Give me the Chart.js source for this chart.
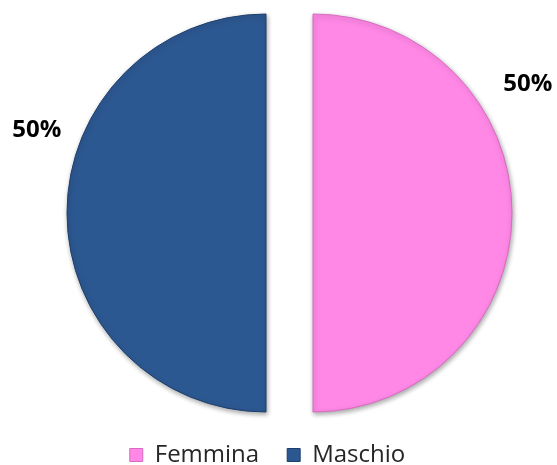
<!DOCTYPE html>
<html>
<head>
<meta charset="utf-8">
<script src="https://cdn.jsdelivr.net/npm/chart.js@4"></script>
<style>
  html, body { margin: 0; padding: 0; background: #fff; }
  #wrap { width: 557px; height: 465px; }
</style>
</head>
<body>
<div id="wrap"><canvas id="pie"></canvas></div>
<script>
// dati del grafico
const categories = ['Femmina', 'Maschio'];
const values = [50, 50];
const sliceColors = ['#FF88E6', '#2C5891'];
const sliceBorders = ['#D86AC2', '#1E3F6C'];

// posizione delle etichette percentuali (angolo in gradi, distanza dal centro)
const labelPlacement = [
    { angle: -28.4, dist: 271 },
    { angle: 198.2, dist: 266 }
];
const explode = 23.5; // distacco delle fette dal centro (px)

// fette staccate: sposta ogni arco lungo la sua bisettrice
// (l'opzione offset di Chart.js v4 restringe anche l'angolo e storce il bordo dritto)
const explodePlugin = {
    id: 'explode',
    beforeDatasetsDraw(chart) {
        const ctx = chart.ctx;
        chart.getDatasetMeta(0).data.forEach(arc => {
            if (arc._exploded) return;
            const origDraw = arc.draw;
            arc.draw = function(c) {
                const mid = (this.startAngle + this.endAngle) / 2;
                c.save();
                c.translate(Math.cos(mid) * explode, Math.sin(mid) * explode);
                origDraw.call(this, c);
                c.restore();
            };
            arc._exploded = true;
        });
        // ombra leggera sotto le fette
        ctx.save();
        ctx.shadowColor = 'rgba(0,0,0,0.35)';
        ctx.shadowBlur = 5;
        ctx.shadowOffsetX = 1;
        ctx.shadowOffsetY = 2;
    },
    afterDatasetsDraw(chart) {
        chart.ctx.restore();
    }
};

// etichette "50%" fuori dalla torta
const percentLabels = {
    id: 'percentLabels',
    afterDraw(chart) {
        const ctx = chart.ctx;
        const meta = chart.getDatasetMeta(0);
        const total = values.reduce((s, v) => s + v, 0);
        ctx.save();
        ctx.font = 'bold 24px "Open Sans", sans-serif';
        ctx.fillStyle = '#000';
        ctx.textAlign = 'center';
        ctx.textBaseline = 'middle';
        meta.data.forEach((arc, i) => {
            const p = labelPlacement[i];
            const a = p.angle * Math.PI / 180;
            const x = arc.x + Math.cos(a) * p.dist;
            const y = arc.y + Math.sin(a) * p.dist;
            ctx.fillText(Math.round(values[i] / total * 100) + '%', x, y);
        });
        ctx.restore();
    }
};

// sposta la legenda come nel riferimento
const legendShift = {
    id: 'legendShift',
    afterLayout(chart) {
        const lg = chart.legend;
        lg.left -= 22;
        lg.right -= 22;
        lg.top += 12;
        lg.bottom += 12;
    }
};

const ctx = document.getElementById('pie').getContext('2d');
const chart = new Chart(ctx, {
    type: 'pie',
    data: {
        labels: categories,
        datasets: [{
            data: values,
            backgroundColor: sliceColors,
            borderColor: sliceBorders,
            borderWidth: 1
        }]
    },
    options: {
        responsive: true,
        maintainAspectRatio: false,
        animation: false,
        radius: 199,
        layout: { padding: { left: 22, right: 0, top: 23, bottom: 0 } },
        plugins: {
            tooltip: { enabled: false },
            legend: {
                position: 'bottom',
                labels: {
                    boxWidth: 13,
                    boxHeight: 13,
                    padding: 28,
                    color: '#262626',
                    font: { family: '"Open Sans", sans-serif', size: 24 }
                }
            }
        }
    },
    plugins: [explodePlugin, percentLabels, legendShift]
});
</script>
</body>
</html>
